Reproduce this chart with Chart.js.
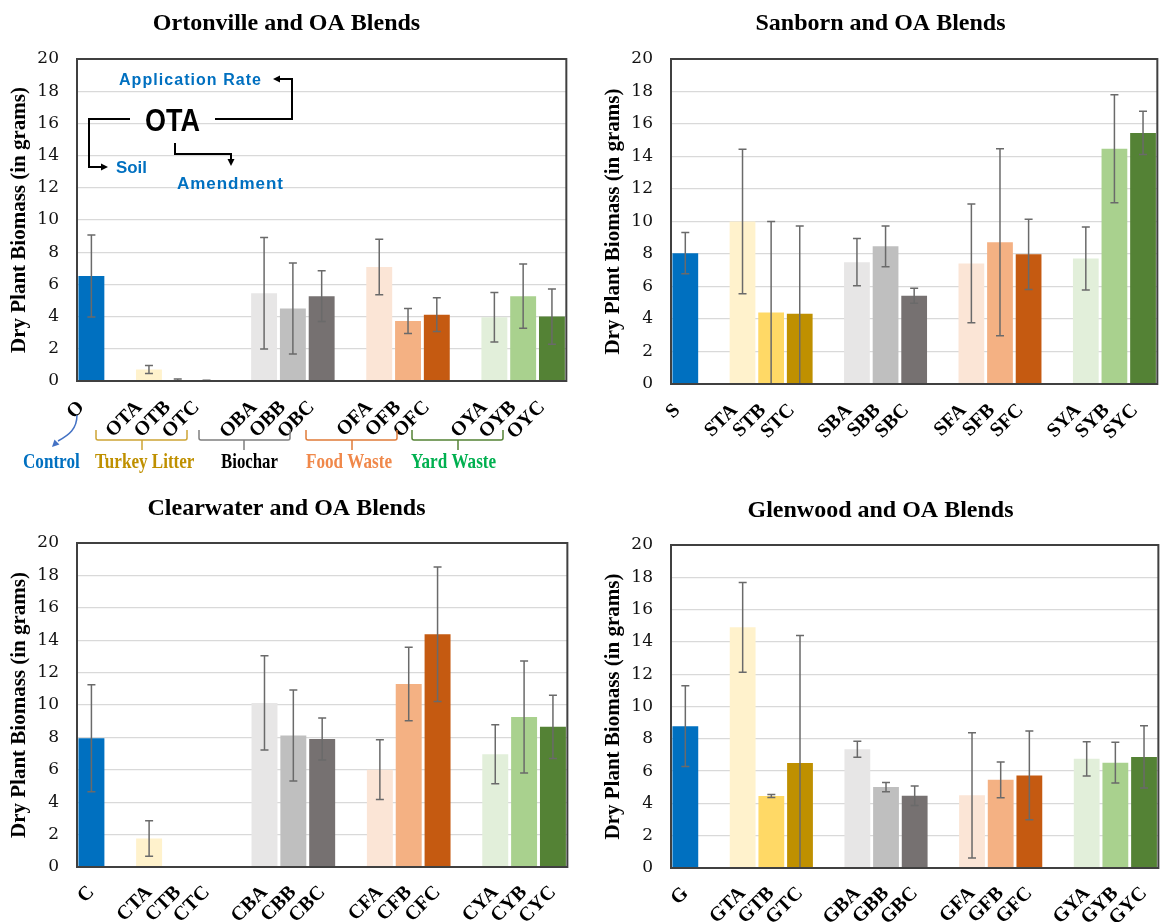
<!DOCTYPE html>
<html>
<head>
<meta charset="utf-8">
<title>Dry Plant Biomass - Soils and OA Blends</title>
<script src="https://cdn.jsdelivr.net/npm/chart.js@4"></script>
<style>
  html, body { margin: 0; padding: 0; background: #fff; }
  body { position: relative; width: 1162px; height: 922px; overflow: hidden; }
  canvas { position: absolute; }
</style>
</head>
<body>
<canvas id="ortonville" width="576" height="480" style="left:0;top:0"></canvas>
<canvas id="sanborn" width="573" height="480" style="left:594px;top:0"></canvas>
<canvas id="clearwater" width="576" height="437" style="left:0;top:485px"></canvas>
<canvas id="glenwood" width="573" height="435" style="left:594px;top:487px"></canvas>
<script>
// data (grams), blank slots separate the amendment groups
const ortonvilleLabels = ["O", "", "OTA", "OTB", "OTC", "", "OBA", "OBB", "OBC", "", "OFA", "OFB", "OFC", "", "OYA", "OYB", "OYC"];
const ortonvilleMeans = [6.52, null, 0.72, 0.06, 0.02, null, 5.45, 4.5, 5.27, null, 7.08, 3.73, 4.12, null, 3.96, 5.27, 4.0];
const ortonvilleErrors = [2.55, null, 0.25, 0.07, 0.02, null, 3.46, 2.83, 1.58, null, 1.72, 0.78, 1.05, null, 1.53, 1.99, 1.72];

const sanbornLabels = ["S", "", "STA", "STB", "STC", "", "SBA", "SBB", "SBC", "", "SFA", "SFB", "SFC", "", "SYA", "SYB", "SYC"];
const sanbornMeans = [8.05, null, 10.0, 4.4, 4.33, null, 7.5, 8.47, 5.43, null, 7.42, 8.72, 7.98, null, 7.72, 14.48, 15.45];
const sanbornErrors = [1.27, null, 4.45, 5.6, 5.4, null, 1.46, 1.25, 0.46, null, 3.65, 5.75, 2.16, null, 1.94, 3.32, 1.33];

const clearwaterLabels = ["C", "", "CTA", "CTB", "CTC", "", "CBA", "CBB", "CBC", "", "CFA", "CFB", "CFC", "", "CYA", "CYB", "CYC"];
const clearwaterMeans = [7.95, null, 1.76, 0, 0, null, 10.13, 8.12, 7.9, null, 6.01, 11.3, 14.37, null, 6.96, 9.26, 8.65];
const clearwaterErrors = [3.3, null, 1.1, 0, 0, null, 2.91, 2.81, 1.3, null, 1.84, 2.27, 4.15, null, 1.82, 3.46, 1.95];

const glenwoodLabels = ["G", "", "GTA", "GTB", "GTC", "", "GBA", "GBB", "GBC", "", "GFA", "GFB", "GFC", "", "GYA", "GYB", "GYC"];
const glenwoodMeans = [8.78, null, 14.9, 4.46, 6.5, null, 7.35, 5.01, 4.47, null, 4.5, 5.46, 5.73, null, 6.76, 6.52, 6.88];
const glenwoodErrors = [2.5, null, 2.78, 0.09, 7.9, null, 0.5, 0.29, 0.6, null, 3.88, 1.11, 2.75, null, 1.06, 1.26, 1.93];

const yTicks = [0, 2, 4, 6, 8, 10, 12, 14, 16, 18, 20];
const groupNames = ["Control", "Turkey Litter", "Biochar", "Food Waste", "Yard Waste"];

const blendColors = ["#0070C0", null, "#FFF2CC", "#FFD966", "#BF9000", null, "#E7E6E6", "#BFBFBF", "#767171", null,
  "#FBE5D6", "#F4B183", "#C55A11", null, "#E2EFDA", "#A9D18E", "#548235"];

const serif = "'Liberation Serif', 'Times New Roman', serif";
const sans = "'Liberation Sans', Arial, sans-serif";

const errorBars = {
  id: "errorBars",
  afterDatasetsDraw(chart, args, opts) {
    const { ctx, chartArea: a, scales: { y } } = chart;
    const means = chart.data.datasets[0].data;
    ctx.save();
    ctx.beginPath();
    ctx.rect(a.left, a.top, a.right - a.left, a.bottom - a.top);
    ctx.clip();
    ctx.strokeStyle = "#6a6a6a";
    ctx.lineWidth = 1.5;
    chart.getDatasetMeta(0).data.forEach((bar, i) => {
      const m = means[i], e = opts.errors[i];
      if (m == null || !e) return;
      const top = y.getPixelForValue(m + e), bot = y.getPixelForValue(m - e);
      ctx.beginPath();
      ctx.moveTo(bar.x, top); ctx.lineTo(bar.x, bot);
      ctx.moveTo(bar.x - 4, top); ctx.lineTo(bar.x + 4, top);
      ctx.moveTo(bar.x - 4, bot); ctx.lineTo(bar.x + 4, bot);
      ctx.stroke();
    });
    ctx.restore();
  }
};

const plotBox = {
  id: "plotBox",
  afterDraw(chart) {
    const { ctx, chartArea: a } = chart;
    ctx.save();
    ctx.strokeStyle = "#404040";
    ctx.lineWidth = 2;
    ctx.strokeRect(a.left, a.top, a.right - a.left, a.bottom - a.top);
    ctx.restore();
  }
};

// draws text centred at cx,cy squeezed or spread to a given width
function fitText(ctx, text, cx, cy, w, font, color) {
  ctx.save();
  ctx.font = font;
  ctx.fillStyle = color;
  ctx.textBaseline = "middle";
  ctx.textAlign = "left";
  const widths = [...text].map(ch => ctx.measureText(ch).width);
  const total = widths.reduce((s, v) => s + v, 0);
  if (total >= w) {
    ctx.translate(cx - w / 2, cy);
    ctx.scale(w / total, 1);
    ctx.fillText(text, 0, 0);
  } else {
    const gap = (w - total) / (text.length - 1);
    let x = cx - w / 2;
    [...text].forEach((ch, i) => { ctx.fillText(ch, x, cy); x += widths[i] + gap; });
  }
  ctx.restore();
}

function arrowHead(ctx, x, y, angle) {
  ctx.save();
  ctx.translate(x, y);
  ctx.rotate(angle);
  ctx.beginPath();
  ctx.moveTo(0, 0);
  ctx.lineTo(-7, -3.5);
  ctx.lineTo(-7, 3.5);
  ctx.closePath();
  ctx.fill();
  ctx.restore();
}

function brace(ctx, x1, x2, xm, top, color) {
  ctx.save();
  ctx.strokeStyle = color;
  ctx.lineWidth = 1.5;
  ctx.beginPath();
  ctx.moveTo(x1, top);
  ctx.lineTo(x1, top + 8);
  ctx.quadraticCurveTo(x1, top + 10, x1 + 2, top + 10);
  ctx.lineTo(x2 - 2, top + 10);
  ctx.quadraticCurveTo(x2, top + 10, x2, top + 8);
  ctx.lineTo(x2, top);
  ctx.moveTo(xm, top + 10);
  ctx.lineTo(xm, top + 20);
  ctx.stroke();
  ctx.restore();
}

// naming key and group legend of the Ortonville panel
const namingKey = {
  id: "namingKey",
  afterDraw(chart) {
    const { ctx, chartArea: a } = chart;
    const L = a.left, T = a.top, B = a.bottom;
    const blue = "#0070C0";
    fitText(ctx, "Application Rate", L + 113, T + 22, 142, "bold 16px " + sans, blue);
    fitText(ctx, "OTA", L + 96.5, T + 63, 57, "bold 32px " + sans, "#000");
    fitText(ctx, "Soil", L + 54.5, T + 109, 31, "bold 17px " + sans, blue);
    fitText(ctx, "Amendment", L + 153, T + 125, 106, "bold 17px " + sans, blue);

    ctx.save();
    ctx.strokeStyle = "#000";
    ctx.fillStyle = "#000";
    ctx.lineWidth = 2;
    ctx.beginPath();
    ctx.moveTo(L + 53, T + 60); ctx.lineTo(L + 12, T + 60); ctx.lineTo(L + 12, T + 108); ctx.lineTo(L + 25, T + 108);
    ctx.moveTo(L + 98, T + 84); ctx.lineTo(L + 98, T + 95); ctx.lineTo(L + 154, T + 95); ctx.lineTo(L + 154, T + 101);
    ctx.moveTo(L + 138, T + 60); ctx.lineTo(L + 215, T + 60); ctx.lineTo(L + 215, T + 20); ctx.lineTo(L + 203, T + 20);
    ctx.stroke();
    arrowHead(ctx, L + 31, T + 108, 0);
    arrowHead(ctx, L + 154, T + 107, Math.PI / 2);
    arrowHead(ctx, L + 196, T + 20, Math.PI);

    ctx.strokeStyle = "#4472C4";
    ctx.fillStyle = "#4472C4";
    ctx.lineWidth = 1.5;
    ctx.beginPath();
    ctx.moveTo(L, B + 34);
    ctx.bezierCurveTo(L, B + 48, L - 8, B + 54, L - 19, B + 60);
    ctx.stroke();
    arrowHead(ctx, L - 25, B + 66, Math.PI * 0.75);
    ctx.restore();

    const braceTop = B + 49;
    brace(ctx, L + 19, L + 110, L + 65, braceTop, "#CDA434");
    brace(ctx, L + 122, L + 213, L + 167, braceTop, "#7F7F7F");
    brace(ctx, L + 229, L + 320, L + 275, braceTop, "#E07B39");
    brace(ctx, L + 335, L + 426, L + 381, braceTop, "#548235");

    const textY = B + 82;
    const groupColors = [blue, "#BF9000", "#000", "#F0884A", "#00B050"];
    const centers = [L - 25.5, L + 68.5, L + 172.5, L + 272.5, L + 378];
    const widths = [57, 101, 57, 87, 88];
    groupNames.forEach((name, i) => fitText(ctx, name, centers[i], textY, widths[i], "bold 21px " + serif, groupColors[i]));
  }
};

function makeChart(id, title, labels, means, errors, layout) {
  const plugins = [errorBars, plotBox];
  if (layout.key) plugins.push(namingKey);
  return new Chart(document.getElementById(id), {
    type: "bar",
    data: {
      labels: labels,
      datasets: [{
        data: means,
        backgroundColor: blendColors,
        borderWidth: 0,
        barPercentage: 0.9,
        categoryPercentage: 1.0
      }]
    },
    plugins: plugins,
    options: {
      responsive: false,
      animation: false,
      layout: { padding: { left: 0, right: layout.padRight, top: 0, bottom: 0 } },
      plugins: {
        legend: { display: false },
        tooltip: { enabled: false },
        title: {
          display: true,
          text: title,
          color: "#000",
          font: { family: serif, size: 24, weight: "bold", lineHeight: 1.2 },
          padding: { top: 9, bottom: layout.areaTop - 9 - 28.8 }
        },
        errorBars: { errors: errors }
      },
      scales: {
        x: {
          grid: { display: false },
          border: { display: false },
          ticks: {
            autoSkip: false,
            minRotation: 45,
            maxRotation: 45,
            padding: layout.tickPad,
            labelOffset: layout.labelOffset,
            color: "#000",
            font: { family: serif, size: 20, weight: "bold" }
          },
          afterFit(scale) { scale.height = layout.axisHeight; }
        },
        y: {
          min: 0,
          max: 20,
          afterBuildTicks(scale) { scale.ticks = yTicks.map(v => ({ value: v })); },
          grid: { color: "#d9d9d9", lineWidth: 1.3, drawTicks: false },
          border: { display: false },
          ticks: {
            padding: 18,
            color: "#111",
            font: { family: "'DejaVu Serif', serif", size: 17 }
          },
          title: {
            display: true,
            text: "Dry Plant Biomass (in grams)",
            color: "#000",
            font: { family: serif, size: 21, weight: "bold" },
            padding: { top: 7, bottom: 0 }
          },
          afterFit(scale) { scale.width = 77; }
        }
      }
    }
  });
}

makeChart("ortonville", "Ortonville and OA Blends", ortonvilleLabels, ortonvilleMeans, ortonvilleErrors,
  { areaTop: 59, axisHeight: 99, padRight: 3, tickPad: 7, labelOffset: -10, key: true });
makeChart("sanborn", "Sanborn and OA Blends", sanbornLabels, sanbornMeans, sanbornErrors,
  { areaTop: 59, axisHeight: 96, padRight: 0, tickPad: 7, labelOffset: -8 });
makeChart("clearwater", "Clearwater and OA Blends", clearwaterLabels, clearwaterMeans, clearwaterErrors,
  { areaTop: 58, axisHeight: 55, padRight: 3, tickPad: 6, labelOffset: 0 });
makeChart("glenwood", "Glenwood and OA Blends", glenwoodLabels, glenwoodMeans, glenwoodErrors,
  { areaTop: 58, axisHeight: 54, padRight: 0, tickPad: 6, labelOffset: 0 });
</script>
</body>
</html>
